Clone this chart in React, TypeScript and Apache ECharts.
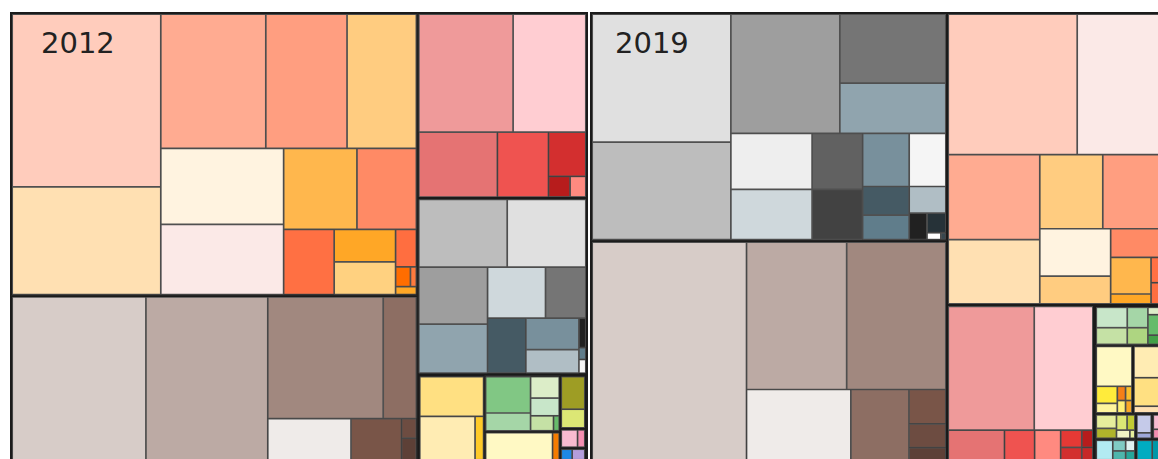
import React, { useEffect, useRef } from 'react';
import * as echarts from 'echarts';

// Nested arrays mark cells that share one strip of the squarified layout.
type Nest = number | Nest[];

const yearLabels = ['2012', '2019'];

// ---------- 2012 values ----------
const orange2012: Nest[] = [[26250, 16350], [14416, 11152, 9520], [9548, 8804], [6068, 4920], 3366, [2046, 2046], 798, [300, 120], 168];
const brown2012: Nest[] = [22545, 20541, [14446, 4154], 3612, 2193, 300, 345];
const red2012: Nest[] = [[11520, 8880], 5280, 3432, 1710, 462, 336];
const grey2012: Nest[] = [[6210, 5520], [4060, 3500], [3068, 2132], 2184, [1728, 1296], 210, 84, 98];
const amber2012: Nest[] = [2814, 2668, 414];
const green2012: Nest[] = [[1833, 893], 690, 570, 384, 96];
const lime2012: Nest[] = [910, 520];
const yellow2012: Nest[] = [2100, 210];
const pink2012: Nest[] = [360, 160];
const indigo2012: Nest[] = [156, 182];

// ---------- 2019 values ----------
const grey2019: Nest[] = [[18200, 13860], [13310, [7490, 5457]], [4674, 4182], [2907, 2601], [2538, 1998], [1363, 1175], 999, 486, 380, 98, 35];
const brown2019: Nest[] = [34632, [15150, 15000], 7632, 4248, 1296, 900, 500];
const orange2019: Nest[] = [[18602, 12780], [7998, 6045], [4800, 4800], [3456, 2016], 1624, [1517, 410], 384, 321];
const red2019: Nest[] = [[11088, 7560], 1790, 960, 830, [378, 294], 198, 154];
const green2019: Nest[] = [[726, 594], [484, 396], 144, 396, 180];
const yellow2019: Nest[] = [1638, [414, 230], [135, 105], [117, 91]];
const amber2019: Nest[] = [1122, 1020, 238];
const lime2019: Nest[] = [[330, 242], [195, 143], 133, 49];
const indigo2019: Nest[] = [340, 102];
const pink2019: Nest[] = [224, 140];
const teal2019: Nest[] = [396, [168, 140], 120, 100];
const cyan2019: Nest[] = [374, 308];

// ---------- colours (leaf order) ----------
const orange2012Colors = ['#FFCCBC', '#FFE0B2', '#FFAB91', '#FF9E80', '#FFCC80', '#FFF3E0', '#FBE9E7', '#FFB74D', '#FF8A65', '#FF7043', '#FFA726', '#FFD180', '#FF6E40', '#FF6D00', '#FF7A3D', '#FFA726'];
const brown2012Colors = ['#D7CCC8', '#BCAAA4', '#A1887F', '#8D6E63', '#EFEBE9', '#795548', '#6D4C41', '#5D4037'];
const red2012Colors = ['#EF9A9A', '#FFCDD2', '#E57373', '#EF5350', '#D32F2F', '#B71C1C', '#FF8A80'];
const grey2012Colors = ['#BDBDBD', '#E0E0E0', '#9E9E9E', '#90A4AE', '#CFD8DC', '#757575', '#455A64', '#78909C', '#B0BEC5', '#212121', '#607D8B', '#F5F5F5'];
const amber2012Colors = ['#FFE082', '#FFECB3', '#FFCA28'];
const green2012Colors = ['#81C784', '#A5D6A7', '#DCEDC8', '#C8E6C9', '#C5E1A5', '#66BB6A'];
const lime2012Colors = ['#9E9D24', '#DCE775'];
const yellow2012Colors = ['#FFF9C4', '#F57C00'];
const pink2012Colors = ['#F8BBD0', '#F48FB1'];
const indigo2012Colors = ['#1E88E5', '#B39DDB'];

const grey2019Colors = ['#E0E0E0', '#BDBDBD', '#9E9E9E', '#757575', '#90A4AE', '#EEEEEE', '#CFD8DC', '#616161', '#424242', '#78909C', '#F5F5F5', '#455A64', '#607D8B', '#B0BEC5', '#212121', '#263238', '#FFFFFF', '#37474F'];
const brown2019Colors = ['#D7CCC8', '#BCAAA4', '#A1887F', '#EFEBE9', '#8D6E63', '#795548', '#6D4C41', '#5D4037'];
const orange2019Colors = ['#FFCCBC', '#FBE9E7', '#FFAB91', '#FFE0B2', '#FFCC80', '#FF9E80', '#FFF3E0', '#FFCC80', '#FF8A65', '#FFB74D', '#FFA726', '#FF7043', '#FF6E40'];
const red2019Colors = ['#EF9A9A', '#FFCDD2', '#E57373', '#EF5350', '#FF8A80', '#E53935', '#D32F2F', '#B71C1C', '#C62828'];
const green2019Colors = ['#C8E6C9', '#C5E1A5', '#A5D6A7', '#AED581', '#DCEDC8', '#66BB6A', '#43A047'];
const yellow2019Colors = ['#FFF9C4', '#FFEB3B', '#FFF59D', '#F57F17', '#FBC02D', '#FFF176', '#F9A825'];
const amber2019Colors = ['#FFECB3', '#FFE082', '#FFE0B2'];
const lime2019Colors = ['#E6EE9C', '#AFB42B', '#DCE775', '#C0CA33', '#F0F4C3', '#E6EE9C'];
const indigo2019Colors = ['#C5CAE9', '#9FA8DA'];
const pink2019Colors = ['#F8BBD0', '#F48FB1'];
const teal2019Colors = ['#B2EBF2', '#80CBC4', '#4DB6AC', '#E0F2F1', '#26A69A'];
const cyan2019Colors = ['#00ACC1', '#0097A7'];

// ---------- styles ----------
const LEAF = { borderWidth: 0.85, borderColor: '#505050', gapWidth: 0 };
const WRAP = { borderWidth: 0, borderColor: '#505050', gapWidth: 0 };
const GROUP = { borderWidth: 1.2, borderColor: '#1b1b1b', gapWidth: 0 };
const SUB = { borderWidth: 1.0, borderColor: '#1b1b1b', gapWidth: 0 };
const YEAR = { borderWidth: 1.0, borderColor: '#1b1b1b', gapWidth: 0 };

function cells(prefix: string, values: Nest[], colors: string[]) {
  let k = 0;
  const walk = (list: Nest[], path: string): any[] =>
    list.map((v, i) => {
      if (Array.isArray(v)) {
        return { name: `${path}.${i}`, itemStyle: WRAP, children: walk(v, `${path}.${i}`) };
      }
      const color = colors[k % colors.length];
      k += 1;
      return { name: `${prefix} ${k}`, value: v, itemStyle: { ...LEAF, color } };
    });
  return walk(values, prefix);
}
const box = (name: string, children: any[], style: any) => ({ name, itemStyle: style, children });
const strip = (name: string, children: any[]) => ({ name, itemStyle: WRAP, children });

const tree2012 = box('2012', [
  strip('2012-left', [
    box('Orange 2012', cells('orange2012', orange2012, orange2012Colors), GROUP),
    box('Brown 2012', cells('brown2012', brown2012, brown2012Colors), GROUP),
  ]),
  box('Red 2012', cells('red2012', red2012, red2012Colors), GROUP),
  box('Grey 2012', cells('grey2012', grey2012, grey2012Colors), GROUP),
  box('Other 2012', [
    box('Amber 2012', cells('amber2012', amber2012, amber2012Colors), SUB),
    strip('other2012-a', [
      box('Green 2012', cells('green2012', green2012, green2012Colors), SUB),
      box('Yellow 2012', cells('yellow2012', yellow2012, yellow2012Colors), SUB),
    ]),
    box('Lime 2012', cells('lime2012', lime2012, lime2012Colors), SUB),
    box('Pink 2012', cells('pink2012', pink2012, pink2012Colors), SUB),
    box('Indigo 2012', cells('indigo2012', indigo2012, indigo2012Colors), SUB),
  ], GROUP),
], YEAR);

const tree2019 = box('2019', [
  strip('2019-left', [
    box('Grey 2019', cells('grey2019', grey2019, grey2019Colors), GROUP),
    box('Brown 2019', cells('brown2019', brown2019, brown2019Colors), GROUP),
  ]),
  box('Orange 2019', cells('orange2019', orange2019, orange2019Colors), GROUP),
  box('Red 2019', cells('red2019', red2019, red2019Colors), GROUP),
  box('Other 2019', [
    box('Green 2019', cells('green2019', green2019, green2019Colors), SUB),
    strip('other2019-a', [
      box('Yellow 2019', cells('yellow2019', yellow2019, yellow2019Colors), SUB),
      box('Amber 2019', cells('amber2019', amber2019, amber2019Colors), SUB),
    ]),
    strip('other2019-b', [
      box('Lime 2019', cells('lime2019', lime2019, lime2019Colors), SUB),
      box('Teal 2019', cells('teal2019', teal2019, teal2019Colors), SUB),
    ]),
    strip('other2019-c', [
      box('Indigo 2019', cells('indigo2019', indigo2019, indigo2019Colors), SUB),
      box('Pink 2019', cells('pink2019', pink2019, pink2019Colors), SUB),
    ]),
    box('Cyan 2019', cells('cyan2019', cyan2019, cyan2019Colors), SUB),
  ], GROUP),
], YEAR);

const trees = [tree2012, tree2019];
const panelLeft = [10, 590];
const labelLeft = [41, 615];

export default function App() {
  const ref = useRef<HTMLDivElement>(null);
  useEffect(() => {
    if (!ref.current) return;
    const chart = echarts.init(ref.current, undefined, { renderer: 'svg' });
    chart.setOption({
      animation: false,
      backgroundColor: '#ffffff',
      series: trees.map((t, i) => ({
        type: 'treemap',
        left: panelLeft[i],
        top: 12,
        width: 578,
        height: 451,
        sort: false,
        squareRatio: 0.0001,
        roam: false,
        nodeClick: false,
        silent: true,
        breadcrumb: { show: false },
        label: { show: false },
        upperLabel: { show: false },
        itemStyle: { borderWidth: 0, gapWidth: 0, borderColor: '#1b1b1b' },
        data: [t],
      })),
      graphic: yearLabels.map((y, i) => ({
        type: 'text',
        x: labelLeft[i],
        y: 43,
        z: 100,
        style: {
          text: y,
          fontSize: 29,
          fontFamily: 'DejaVu Sans',
          fill: '#222222',
          align: 'left',
          verticalAlign: 'middle',
        },
      })),
    });
    return () => chart.dispose();
  }, []);
  return (
    <div
      ref={ref}
      style={{ position: 'fixed', left: 0, top: 0, width: 1158, height: 459, background: '#fff' }}
    />
  );
}
